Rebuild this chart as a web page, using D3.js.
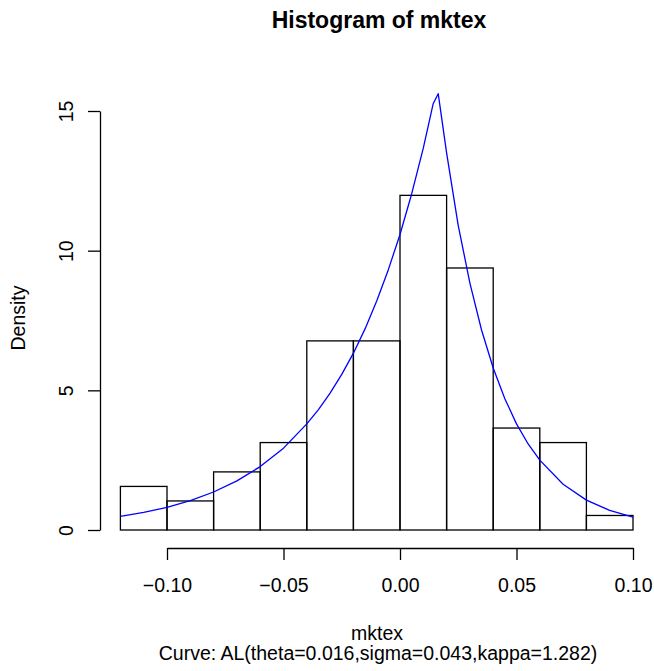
<!DOCTYPE html>
<html>
<head>
<meta charset="utf-8">
<script src="https://cdn.jsdelivr.net/npm/d3@7"></script>
<style>
  body { margin: 0; background: #fff; }
  text { font-family: "Liberation Sans", Arial, Helvetica, sans-serif; fill: #000; }
</style>
</head>
<body>
<div class="histContainer"></div>
<script>
// histogram bins (bin edges) and densities
const breaks = [-0.12, -0.10, -0.08, -0.06, -0.04, -0.02, 0.00, 0.02, 0.04, 0.06, 0.08, 0.10];
const density = [1.56, 1.04, 2.08, 3.13, 6.77, 6.77, 11.98, 9.38, 3.65, 3.13, 0.52];

// blue AL curve
const curveX = [-0.12, -0.11, -0.10, -0.09, -0.08, -0.07, -0.06, -0.05, -0.04, -0.035, -0.03, -0.025,
  -0.02, -0.015, -0.01, -0.005, 0.00, 0.005, 0.01, 0.0142, 0.0164, 0.02, 0.025, 0.03, 0.035,
  0.04, 0.045, 0.05, 0.055, 0.06, 0.07, 0.08, 0.09, 0.10];
const curveY = [0.49, 0.63, 0.81, 1.05, 1.36, 1.76, 2.27, 2.93, 3.80, 4.31, 4.90, 5.57,
  6.33, 7.20, 8.20, 9.32, 10.58, 12.03, 13.67, 15.25, 15.62, 13.5, 10.9, 8.84, 7.16,
  5.80, 4.70, 3.80, 3.08, 2.50, 1.64, 1.07, 0.70, 0.46];

const xTicks = [-0.10, -0.05, 0.00, 0.05, 0.10];
const yTicks = [0, 5, 10, 15];

const titleText = "Histogram of mktex";
const xLabel = "mktex";
const yLabel = "Density";
const subText = "Curve: AL(theta=0.016,sigma=0.043,kappa=1.282)";

const width = 654, height = 671;
const fontSize = 19.5;

const xScale = d3.scaleLinear().domain([-0.10, 0.10]).range([167, 633]);
const yScale = d3.scaleLinear().domain([0, 15]).range([530, 111]);

const svg = d3.select(".histContainer")
  .append("svg")
  .attr("width", width)
  .attr("height", height);

svg.append("rect").attr("width", width).attr("height", height).attr("fill", "#fff");

const bins = density.map((d, i) => ({ x0: breaks[i], x1: breaks[i + 1], y: d }));

// bars
svg.append("g")
  .selectAll("rect")
  .data(bins)
  .enter()
  .append("rect")
  .attr("x", d => xScale(d.x0))
  .attr("y", d => yScale(d.y))
  .attr("width", d => xScale(d.x1) - xScale(d.x0))
  .attr("height", d => yScale(0) - yScale(d.y))
  .attr("fill", "none")
  .attr("stroke", "#000")
  .attr("stroke-width", 1.3);

// curve
const line = d3.line()
  .x((d, i) => xScale(curveX[i]))
  .y(d => yScale(d));

svg.append("path")
  .datum(curveY)
  .attr("d", line)
  .attr("fill", "none")
  .attr("stroke", "#0000ff")
  .attr("stroke-width", 1.3)
  .attr("stroke-linejoin", "round");

// x axis
const xAxis = d3.axisBottom(xScale)
  .tickValues(xTicks)
  .tickFormat(d3.format(".2f"))
  .tickSize(12)
  .tickSizeOuter(0);

const gx = svg.append("g")
  .attr("transform", "translate(" + [0, 548] + ")")
  .call(xAxis);
gx.select(".domain").attr("stroke-width", 1.3);
gx.selectAll(".tick line").attr("stroke-width", 1.3);
gx.selectAll(".tick text")
  .attr("y", 44)
  .attr("dy", null)
  .attr("font-size", fontSize)
  .attr("font-family", null);

// y axis
const yAxis = d3.axisLeft(yScale)
  .tickValues(yTicks)
  .tickSize(12)
  .tickSizeOuter(0);

const gy = svg.append("g")
  .attr("transform", "translate(" + [100, 0] + ")")
  .call(yAxis);
gy.select(".domain").attr("stroke-width", 1.3);
gy.selectAll(".tick line").attr("stroke-width", 1.3);
gy.selectAll(".tick text")
  .attr("x", null)
  .attr("dy", null)
  .attr("text-anchor", "middle")
  .attr("transform", "translate(-27,0) rotate(-90)")
  .attr("font-size", fontSize)
  .attr("font-family", null);

// titles
svg.append("text")
  .attr("x", 379)
  .attr("y", 28)
  .attr("text-anchor", "middle")
  .attr("font-weight", "bold")
  .attr("font-size", 23)
  .text(titleText);

svg.append("text")
  .attr("x", 377)
  .attr("y", 640)
  .attr("text-anchor", "middle")
  .attr("font-size", fontSize)
  .text(xLabel);

svg.append("text")
  .attr("x", 378)
  .attr("y", 660)
  .attr("text-anchor", "middle")
  .attr("font-size", fontSize)
  .text(subText);

svg.append("text")
  .attr("transform", "translate(25,318) rotate(-90)")
  .attr("text-anchor", "middle")
  .attr("font-size", fontSize)
  .text(yLabel);
</script>
</body>
</html>
